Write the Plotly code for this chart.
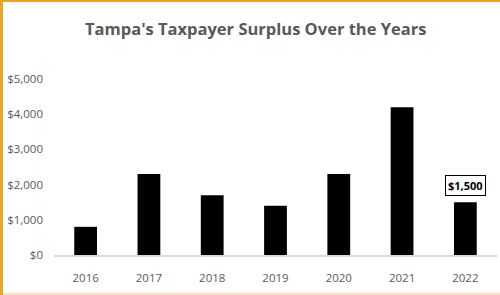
import plotly.graph_objects as go

years = ["2016", "2017", "2018", "2019", "2020", "2021", "2022"]
surplus = [800, 2300, 1700, 1400, 2300, 4200, 1500]
y_ticks = [0, 1000, 2000, 3000, 4000, 5000]
y_tick_labels = ["$0", "$1,000", "$2,000", "$3,000", "$4,000", "$5,000"]
title_text = "Tampa's Taxpayer Surplus Over the Years"
callout_text = "$1,500"
callout_index = len(years) - 1

W, H = 500, 295
ml, mr, mt, mb = 54, 3, 79, 40
pw, ph = W - ml - mr, H - mt - mb

def px_x(p):
    return (p - ml) / pw

def px_y(p):
    return (H - mb - p) / ph

fig = go.Figure(go.Bar(x=years, y=surplus, marker_color="#000000",
                       marker_line_width=0, hoverinfo="skip"))

fig.add_annotation(x=callout_index, y=surplus[callout_index], xref="x", yref="y",
                   text="<b>" + callout_text + "</b>",
                   showarrow=False, yshift=6, yanchor="bottom",
                   bordercolor="#000000", borderwidth=1,
                   borderpad=2, bgcolor="#ffffff",
                   font=dict(family="Open Sans", size=11, color="#000000"))

fig.add_annotation(xref="paper", yref="paper", x=px_x(255), y=px_y(29),
                   text="<b>" + title_text + "</b>", showarrow=False,
                   font=dict(family="Open Sans", size=16.5, color="#595959"),
                   xanchor="center", yanchor="middle")

orange = "#F5A31A"
shapes = [
    dict(type="rect", xref="paper", yref="paper", x0=px_x(0), x1=px_x(3),
         y0=px_y(H), y1=px_y(0), fillcolor=orange, line=dict(width=0), layer="above"),
    dict(type="rect", xref="paper", yref="paper", x0=px_x(0), x1=px_x(W),
         y0=px_y(2), y1=px_y(0), fillcolor=orange, line=dict(width=0), layer="above"),
    dict(type="rect", xref="paper", yref="paper", x0=px_x(3), x1=px_x(W),
         y0=px_y(H), y1=px_y(H - 2), fillcolor="#FDE3BD", line=dict(width=0), layer="above"),
]

fig.update_layout(
    width=W, height=H, margin=dict(l=ml, r=mr, t=mt, b=mb),
    paper_bgcolor="#ffffff", plot_bgcolor="#ffffff",
    bargap=0.64, showlegend=False, shapes=shapes, hovermode=False,
    xaxis=dict(type="category", categoryorder="array", categoryarray=years,
               range=[-0.5, len(years) - 0.5], showgrid=False, showline=True,
               linecolor="#D9D9D9", linewidth=1.5, ticks="",
               tickfont=dict(family="Open Sans", size=11.5, color="#595959"),
               ticklabelstandoff=12),
    yaxis=dict(range=[0, 5000], tickvals=y_ticks, ticktext=y_tick_labels,
               showgrid=False, zeroline=False, showline=False, ticks="",
               tickfont=dict(family="Open Sans", size=11.5, color="#595959"),
               ticklabelstandoff=10),
)

fig.write_html("out.html", config={"displayModeBar": False, "staticPlot": True},
               post_script="document.body.style.margin='0px';document.body.style.overflow='hidden';")
